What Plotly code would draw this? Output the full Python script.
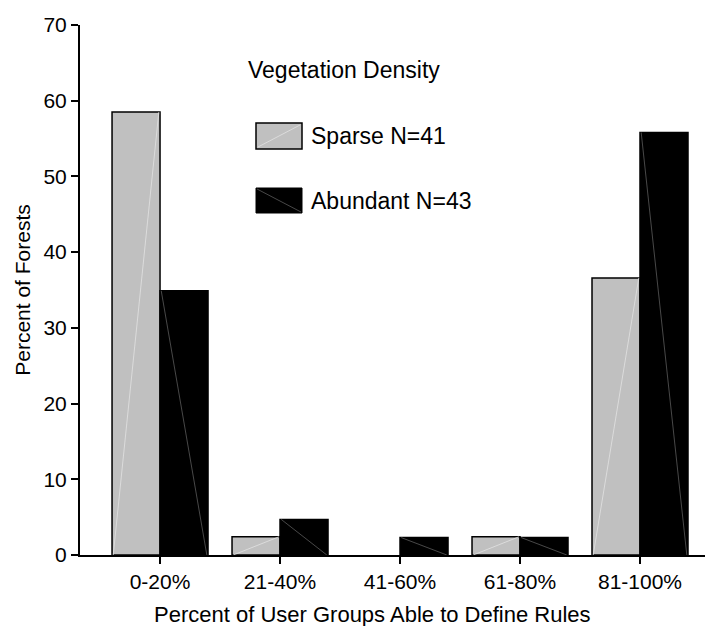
import plotly.graph_objects as go

categories = ["0-20%", "21-40%", "41-60%", "61-80%", "81-100%"]
sparse = [58.5, 2.4, 0.0, 2.4, 36.6]
abundant = [34.9, 4.7, 2.3, 2.3, 55.8]
y_ticks = [0, 10, 20, 30, 40, 50, 60, 70]

FONT = "Liberation Sans, Arial, Helvetica, sans-serif"
W, H = 713, 626
L, R, T, B = 72, 3, 17, 79
xpos = list(range(len(categories)))
bw = 0.4

fig = go.Figure()
fig.add_trace(go.Bar(x=xpos, y=sparse, width=bw, offset=-bw, name="Sparse N=41",
                     marker=dict(color="#c0c0c0",
                                 line=dict(color="black", width=[1.5 if v > 0 else 0 for v in sparse])),
                     showlegend=False))
fig.add_trace(go.Bar(x=xpos, y=abundant, width=bw, offset=0, name="Abundant N=43",
                     marker=dict(color="black",
                                 line=dict(color="black", width=[1.5 if v > 0 else 0 for v in abundant])),
                     showlegend=False))

# faint diagonal artifacts inside bars
sx, sy, ax_, ay = [], [], [], []
for i, v in enumerate(sparse):
    if v > 0:
        sx += [i - bw + 0.01, i - 0.01, None]
        sy += [0, v, None]
for i, v in enumerate(abundant):
    if v > 0:
        ax_ += [i + 0.01, i + bw - 0.01, None]
        ay += [v, 0, None]
fig.add_trace(go.Scatter(x=sx, y=sy, mode="lines", line=dict(color="#e2e2e2", width=0.8),
                         showlegend=False, hoverinfo="skip"))
fig.add_trace(go.Scatter(x=ax_, y=ay, mode="lines", line=dict(color="#5a5a5a", width=0.8),
                         showlegend=False, hoverinfo="skip"))

pw = W - L - R
ph = H - T - B
def px(x):
    return (x - L) / pw
def py(y):
    return (H - B - y) / ph

# x-axis title (as annotation, slightly left of the plot centre as in the original)
fig.add_annotation(x=px(364), y=py(606), xref="paper", yref="paper",
                   text="Percent of User Groups Able to Define Rules",
                   showarrow=False, xanchor="center", yanchor="middle",
                   font=dict(family=FONT, size=22, color="black"))

# legend (drawn manually)
fig.add_annotation(x=px(238), y=py(62), xref="paper", yref="paper", text="Vegetation Density",
                   showarrow=False, xanchor="left", yanchor="middle",
                   font=dict(family=FONT, size=23, color="black"))
fig.add_shape(type="rect", xref="paper", yref="paper", x0=px(248), x1=px(294), y0=py(141), y1=py(115),
              fillcolor="#c0c0c0", line=dict(color="black", width=1.5))
fig.add_shape(type="line", xref="paper", yref="paper", x0=px(250), x1=px(292), y0=py(139), y1=py(117),
              line=dict(color="#e2e2e2", width=0.8))
fig.add_shape(type="rect", xref="paper", yref="paper", x0=px(248), x1=px(294), y0=py(205), y1=py(180),
              fillcolor="black", line=dict(color="black", width=1))
fig.add_shape(type="line", xref="paper", yref="paper", x0=px(249), x1=px(293), y0=py(181), y1=py(204),
              line=dict(color="#5a5a5a", width=0.8))
fig.add_annotation(x=px(301), y=py(128), xref="paper", yref="paper", text="Sparse N=41",
                   showarrow=False, xanchor="left", yanchor="middle",
                   font=dict(family=FONT, size=23, color="black"))
fig.add_annotation(x=px(301), y=py(193), xref="paper", yref="paper", text="Abundant N=43",
                   showarrow=False, xanchor="left", yanchor="middle",
                   font=dict(family=FONT, size=23, color="black"))

fig.update_layout(
    width=W, height=H,
    margin=dict(l=L, r=R, t=T, b=B, pad=0),
    plot_bgcolor="white", paper_bgcolor="white",
    font=dict(family=FONT, color="black"),
    bargap=0.2,
    xaxis=dict(range=[-0.667, 4.65], tickvals=xpos, ticktext=categories,
               showgrid=False, zeroline=False, showline=True, linecolor="black", linewidth=2,
               ticks="outside", ticklen=7, tickwidth=1.5, tickcolor="black",
               tickfont=dict(family=FONT, size=21)),
    yaxis=dict(range=[0, 70], tickvals=y_ticks, showgrid=False, zeroline=False,
               showline=True, linecolor="black", linewidth=2,
               ticks="outside", ticklen=7, tickwidth=1.5, tickcolor="black",
               tickfont=dict(family=FONT, size=21),
               title=dict(text="Percent of Forests", font=dict(family=FONT, size=21), standoff=7)),
)

fig.write_html("out.html")
